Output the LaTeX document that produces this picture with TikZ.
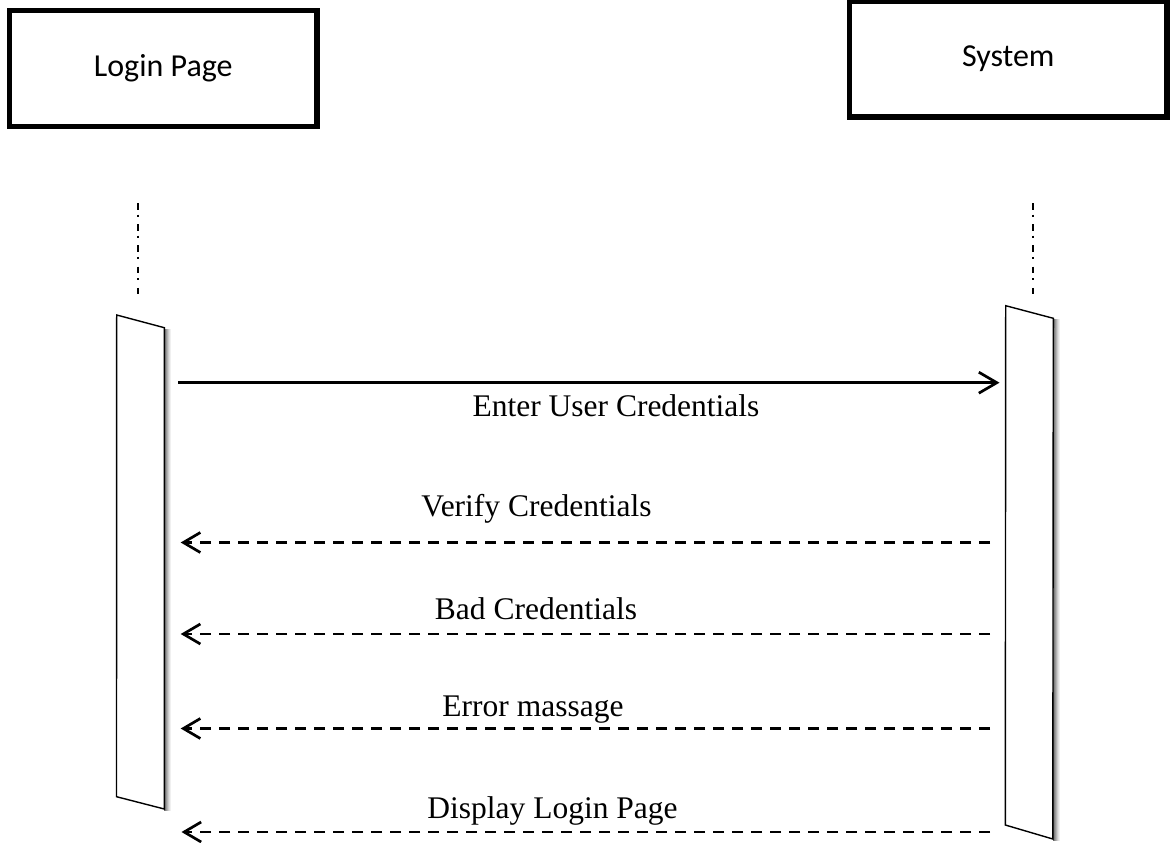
\documentclass[tikz,border=0pt]{standalone}
\usepackage{fontspec}
\setmainfont{Liberation Serif}
\newfontfamily\boxfont{Carlito}
\usetikzlibrary{arrows.meta}
\begin{document}
\begin{tikzpicture}[x=1pt,y=-1pt,
  actor/.style={draw,line width=5.5pt,minimum width=#1,inner sep=0pt,font=\boxfont\fontsize{32}{38}\selectfont},
  lifeline/.style={line width=2.2pt,dash pattern=on 6.5pt off 5pt on 2.2pt off 7.5pt},
  activation/.style={draw,line width=1.4pt,fill=white,line join=miter},
  msglabel/.style={anchor=base,inner sep=0pt,font=\fontsize{31.5}{38}\selectfont},
  callmsg/.style={line width=2.7pt,-{Straight Barb[length=18pt,width=21pt]}},
  retmsg/.style={line width=2.7pt,dash pattern=on 11pt off 8pt,-{Straight Barb[length=17pt,width=20pt]}}
]
\useasboundingbox (0,0) rectangle (1171,843);
\fill[white] (0,0) rectangle (1171,843);

% actors
\node[actor=307.5pt,minimum height=116pt] (login) at (163.25,68.5) {Login Page};
\node[actor=317.5pt,minimum height=116pt] (system) at (1008.25,59) {System};

% lifelines
\coordinate (ll1) at (137.7,203);
\coordinate (ll1e) at (137.7,294);
\coordinate (ll2) at (1033.3,203);
\coordinate (ll2e) at (1033.3,294);
\draw[lifeline] (ll1) -- (ll1e);
\draw[lifeline] (ll2) -- (ll2e);

% activation bar shadows (stepped gradient)
\foreach \i/\g in {0/60,1/50,2/40,3/30,4/20,5/12,6/6}{
  \fill[black!\g] (164.3+\i,328.5) -- (165.3+\i,328.5) -- (165.3+\i,811) -- (164.3+\i,811) -- cycle;
  \fill[black!\g] (1053.3+\i,319) -- (1054.3+\i,319) -- (1054.3+\i,841) -- (1053.3+\i,841) -- cycle;
}
\path[activation] (116.7,315) -- (164.3,327.7) -- (164.3,809) -- (116.5,796.7) -- cycle;
\path[activation] (1005.7,305.7) -- (1053.3,318.3) -- (1052.8,839) -- (1005.3,825) -- cycle;

% message endpoints
\coordinate (a1) at (178,382.7);
\coordinate (b1) at (999.5,382.7);
\coordinate (a2) at (180.7,542.5);
\coordinate (b2) at (990,542.5);
\coordinate (a3) at (180.7,634);
\coordinate (b3) at (990,634);
\coordinate (a4) at (180.7,728.5);
\coordinate (b4) at (990,728.5);
\coordinate (a5) at (181.5,832);
\coordinate (b5) at (990,832);

\draw[callmsg] (a1) -- (b1);
\draw[retmsg] (b2) -- (a2);
\draw[retmsg] (b3) -- (a3);
\draw[retmsg] (b4) -- (a4);
\draw[retmsg] (b5) -- (a5);

% labels
\node[msglabel] (l1) at (616,416) {Enter User Credentials};
\node[msglabel] (l2) at (536.5,516) {Verify Credentials};
\node[msglabel] (l3) at (536,619) {Bad Credentials};
\node[msglabel] (l4) at (533,716.7) {Error massage};
\node[msglabel] (l5) at (552.5,818.3) {Display Login Page};
\end{tikzpicture}
\end{document}
